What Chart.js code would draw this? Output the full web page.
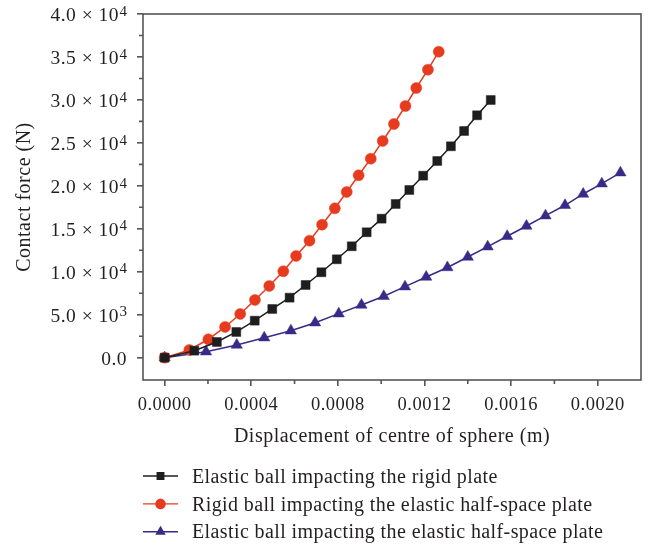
<!DOCTYPE html>
<html>
<head>
<meta charset="utf-8">
<title>Contact force vs displacement</title>
<script src="https://cdn.jsdelivr.net/npm/chart.js@4.4.0/dist/chart.umd.min.js"></script>
<style>
  html, body { margin: 0; padding: 0; background: #fff; }
  #wrap { width: 649px; height: 547px; }
</style>
</head>
<body>
<div id="wrap"><canvas id="chart" width="649" height="547"></canvas></div>
<script>
// values (x in m, y in N)
const rigidPlateX = [0, 0.000137, 0.000241, 0.000331, 0.000416, 0.000497, 0.000577, 0.000651, 0.000724, 0.000795, 0.000864,
  0.000933, 0.001002, 0.001067, 0.00113, 0.001194, 0.001259, 0.001322, 0.001383, 0.001443, 0.001506];
const rigidPlateY = [0, 815, 1827, 2991, 4306, 5668, 6983, 8461, 9939, 11452, 12965,
  14594, 16177, 17888, 19517, 21181, 22892, 24603, 26383, 28210, 29990];

const rigidBallX = [0, 0.000114, 0.000202, 0.000279, 0.000349, 0.000417, 0.000483, 0.000548, 0.000607, 0.000669, 0.000727,
  0.000786, 0.000841, 0.000896, 0.000952, 0.001007, 0.001059, 0.001112, 0.001162, 0.001216, 0.001266];
const rigidBallY = [0, 896, 2141, 3573, 5086, 6715, 8344, 10055, 11836, 13617, 15479,
  17388, 19284, 21228, 23160, 25220, 27198, 29293, 31388, 33518, 35612];

const elasticX = [0, 0.000191, 0.000333, 0.00046, 0.000583, 0.000695, 0.000804, 0.000909, 0.001012, 0.00111, 0.001208,
  0.001306, 0.0014, 0.001492, 0.001582, 0.001671, 0.001759, 0.001849, 0.001933, 0.002019, 0.002105];
const elasticY = [0, 698, 1478, 2328, 3142, 4073, 5121, 6133, 7146, 8263, 9392,
  10497, 11719, 12918, 14129, 15328, 16526, 17736, 19051, 20250, 21530];

const seriesNames = [
  'Elastic ball impacting the rigid plate',
  'Rigid ball impacting the elastic half-space plate',
  'Elastic ball impacting the elastic half-space plate'
];

const xTickValues = [0, 0.0004, 0.0008, 0.0012, 0.0016, 0.0020];
const xTickLabels = ['0.0000', '0.0004', '0.0008', '0.0012', '0.0016', '0.0020'];
const yTickValues = [0, 5000, 10000, 15000, 20000, 25000, 30000, 35000, 40000];
// y labels are "m × 10" with a raised power
const yTickBase = ['0.0', '5.0 \u00d7 10', '1.0 \u00d7 10', '1.5 \u00d7 10', '2.0 \u00d7 10',
  '2.5 \u00d7 10', '3.0 \u00d7 10', '3.5 \u00d7 10', '4.0 \u00d7 10'];
const yTickPower = ['', '3', '4', '4', '4', '4', '4', '4', '4'];

const FONT = '"Liberation Serif", "DejaVu Serif", serif';
const axisColor = '#555';
const textColor = '#231f20';

function toPoints(xs, ys) {
  return xs.map((x, i) => ({ x: x, y: ys[i] }));
}

// a bit of letter spacing so Liberation Serif is as wide as the original face
const spacingPlugin = {
  id: 'spacing',
  beforeDraw(chart) { chart.ctx.letterSpacing = '0.5px'; }
};

// box round the plot, short minor ticks, y labels with superscript
const framePlugin = {
  id: 'frame',
  afterDraw(chart) {
    const ctx = chart.ctx;
    const a = chart.chartArea;
    const sx = chart.scales.x;
    const sy = chart.scales.y;
    ctx.save();
    ctx.strokeStyle = axisColor;
    ctx.lineWidth = 1.6;
    ctx.strokeRect(a.left, a.top, a.right - a.left, a.bottom - a.top);
    ctx.beginPath();
    for (let i = 0; i < xTickValues.length; i++) {
      const px = sx.getPixelForValue(xTickValues[i] + 0.0002);
      if (px < a.right - 1) {
        ctx.moveTo(px, a.bottom);
        ctx.lineTo(px, a.bottom + 4);
      }
    }
    for (let i = 0; i < yTickValues.length - 1; i++) {
      const py = sy.getPixelForValue(yTickValues[i] + 2500);
      ctx.moveTo(a.left, py);
      ctx.lineTo(a.left - 4, py);
    }
    ctx.stroke();

    ctx.fillStyle = textColor;
    ctx.textBaseline = 'alphabetic';
    ctx.textAlign = 'left';
    const right = 127;
    for (let i = 0; i < yTickValues.length; i++) {
      const py = sy.getPixelForValue(yTickValues[i]);
      ctx.letterSpacing = '0px';
      ctx.font = '15px ' + FONT;
      const pw = yTickPower[i] ? ctx.measureText(yTickPower[i]).width : 0;
      ctx.letterSpacing = '0.5px';
      ctx.font = '19.5px ' + FONT;
      const bw = ctx.measureText(yTickBase[i]).width;
      const bx = right - pw - bw - (pw ? 0.5 : 0);
      ctx.fillText(yTickBase[i], bx, py + 7);
      if (pw) {
        ctx.letterSpacing = '0px';
        ctx.font = '15px ' + FONT;
        ctx.fillText(yTickPower[i], right - pw, py + 1.7);
      }
    }
    ctx.restore();
  }
};

// legend under the plot, one entry per row, lined up with the left axis
const legendPlugin = {
  id: 'rowLegend',
  afterDraw(chart) {
    const ctx = chart.ctx;
    chart.data.datasets.forEach((ds, i) => {
      const y = 476 + i * 27.9;
      ctx.save();
      ctx.strokeStyle = ds.borderColor;
      ctx.lineWidth = 1.4;
      ctx.beginPath();
      ctx.moveTo(143, y);
      ctx.lineTo(178, y);
      ctx.stroke();
      ctx.fillStyle = ds.pointBackgroundColor;
      ctx.strokeStyle = ds.pointBorderColor;
      Chart.helpers.drawPoint(ctx, { pointStyle: ds.pointStyle, radius: 4.6, rotation: 0, borderWidth: 1 }, 160.5, y);
      ctx.fillStyle = textColor;
      ctx.font = '20px ' + FONT;
      ctx.letterSpacing = '0.4px';
      ctx.textBaseline = 'alphabetic';
      ctx.textAlign = 'left';
      ctx.fillText(ds.label, 192, y + 6.6);
      ctx.restore();
    });
  }
};

const ctx = document.getElementById('chart');

new Chart(ctx, {
  type: 'line',
  data: {
    datasets: [
      {
        label: seriesNames[0],
        data: toPoints(rigidPlateX, rigidPlateY),
        borderColor: '#1e1e1e',
        borderWidth: 1.5,
        pointStyle: 'rect',
        pointRadius: 6.3,
        pointBackgroundColor: '#1e1e1e',
        pointBorderColor: '#1e1e1e',
        pointBorderWidth: 0.5
      },
      {
        label: seriesNames[1],
        data: toPoints(rigidBallX, rigidBallY),
        borderColor: '#e63b1f',
        borderWidth: 1.5,
        pointStyle: 'circle',
        pointRadius: 5.5,
        pointBackgroundColor: '#e63b1f',
        pointBorderColor: '#e63b1f',
        pointBorderWidth: 0.5
      },
      {
        label: seriesNames[2],
        data: toPoints(elasticX, elasticY),
        borderColor: '#3a2a88',
        borderWidth: 1.5,
        pointStyle: 'triangle',
        pointRadius: 6.5,
        pointBackgroundColor: '#3a2a88',
        pointBorderColor: '#3a2a88',
        pointBorderWidth: 0.5
      }
    ]
  },
  options: {
    responsive: false,
    animation: false,
    layout: { padding: { left: 0, top: 14, right: 8, bottom: 97 } },
    plugins: {
      legend: { display: false },
      tooltip: { enabled: false }
    },
    scales: {
      x: {
        type: 'linear',
        min: -0.0001,
        max: 0.0022,
        afterBuildTicks: (scale) => { scale.ticks = xTickValues.map(v => ({ value: v })); },
        afterFit: (scale) => { scale.height = 70; },
        ticks: {
          callback: (v, i) => xTickLabels[i],
          font: { family: FONT, size: 18.5 },
          color: textColor,
          padding: 8,
          maxRotation: 0
        },
        grid: { drawOnChartArea: false, drawTicks: true, tickLength: 6, color: axisColor, lineWidth: 1.6 },
        border: { display: false },
        title: {
          display: true,
          text: 'Displacement of centre of sphere (m)',
          font: { family: FONT, size: 20 },
          color: textColor,
          padding: { top: 2, bottom: 1 }
        }
      },
      y: {
        type: 'linear',
        min: -2600,
        max: 40000,
        afterBuildTicks: (scale) => { scale.ticks = yTickValues.map(v => ({ value: v })); },
        afterFit: (scale) => { scale.width = 143; },
        ticks: { display: false },
        grid: { drawOnChartArea: false, drawTicks: true, tickLength: 6, color: axisColor, lineWidth: 1.6 },
        border: { display: false },
        title: {
          display: true,
          text: 'Contact force (N)',
          font: { family: FONT, size: 20 },
          color: textColor,
          padding: { top: 13, bottom: 0 }
        }
      }
    }
  },
  plugins: [spacingPlugin, framePlugin, legendPlugin]
});
</script>
</body>
</html>
